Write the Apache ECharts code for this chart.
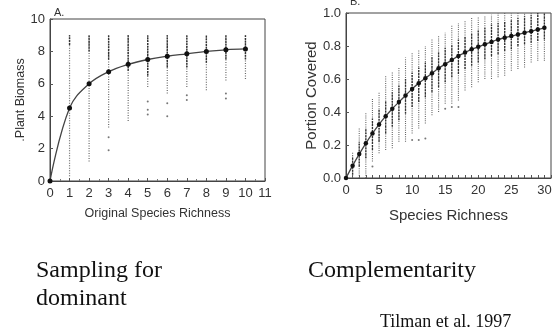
<!DOCTYPE html>
<html>
<head>
<meta charset="utf-8">
<script src="https://cdn.jsdelivr.net/npm/echarts@6/dist/echarts.min.js"></script>
<style>
  html, body { margin: 0; padding: 0; background: #fff; }
  #chart { width: 559px; height: 335px; }
</style>
</head>
<body>
<div id="chart"></div>
<script>
// panel A: plant biomass vs original species richness
const leftX = [0, 1, 2, 3, 4, 5, 6, 7, 8, 9, 10];
const leftMean = [0, 4.5, 6.0, 6.75, 7.2, 7.5, 7.7, 7.85, 8.0, 8.1, 8.15];
const leftCols = [1, 2, 3, 4, 5, 6, 7, 8, 9, 10];
const leftLo = [0.3, 1.2, 3.3, 3.7, 5.8, 5.4, 5.8, 5.6, 6.2, 6.3];
const leftHi = [9.0, 9.0, 9.0, 9.0, 9.0, 9.0, 9.0, 9.0, 9.0, 9.0];
const leftCoreLo = [8.4, 8.0, 7.5, 6.8, 6.5, 7.0, 7.0, 7.3, 7.5, 7.5];
const leftCoreHi = [9.0, 9.0, 9.0, 9.0, 9.0, 9.0, 9.0, 9.0, 9.0, 9.0];
const leftOutliers = [[3, 1.9], [3, 2.7], [5, 4.1], [5, 4.4], [5, 4.9], [6, 4.0], [6, 4.8], [7, 5.0], [7, 5.3], [9, 5.1], [9, 5.4]];

// panel B: portion covered vs species richness
const rightX = [0, 1, 2, 3, 4, 5, 6, 7, 8, 9, 10, 11, 12, 13, 14, 15, 16, 17, 18, 19, 20, 21, 22, 23, 24, 25, 26, 27, 28, 29, 30];
const rightMean = [0, 0.075, 0.145, 0.21, 0.27, 0.325, 0.375, 0.42, 0.46, 0.5, 0.54, 0.575, 0.605, 0.635, 0.665, 0.69, 0.715, 0.74, 0.76, 0.78, 0.795, 0.81, 0.825, 0.84, 0.85, 0.86, 0.87, 0.88, 0.89, 0.9, 0.91];
const rightCols = [1, 2, 3, 4, 5, 6, 7, 8, 9, 10, 11, 12, 13, 14, 15, 16, 17, 18, 19, 20, 21, 22, 23, 24, 25, 26, 27, 28, 29, 30];
const rightLo = [0.0, 0.0, 0.0, 0.10, 0.15, 0.17, 0.18, 0.22, 0.22, 0.27, 0.30, 0.33, 0.38, 0.40, 0.45, 0.45, 0.47, 0.53, 0.55, 0.58, 0.60, 0.60, 0.61, 0.62, 0.65, 0.66, 0.67, 0.70, 0.71, 0.71];
const rightHi = [0.16, 0.30, 0.40, 0.48, 0.52, 0.62, 0.64, 0.67, 0.73, 0.76, 0.78, 0.80, 0.84, 0.86, 0.88, 0.93, 0.94, 0.95, 0.97, 0.98, 0.98, 0.99, 1.0, 1.0, 1.0, 1.0, 1.0, 1.0, 1.0, 1.0];
const rightCoreLo = [0.02, 0.07, 0.12, 0.17, 0.22, 0.27, 0.31, 0.35, 0.39, 0.43, 0.46, 0.49, 0.52, 0.55, 0.58, 0.61, 0.63, 0.66, 0.68, 0.70, 0.72, 0.74, 0.75, 0.77, 0.78, 0.80, 0.81, 0.82, 0.83, 0.84];
const rightCoreHi = [0.13, 0.22, 0.30, 0.36, 0.42, 0.47, 0.52, 0.56, 0.60, 0.64, 0.67, 0.70, 0.73, 0.76, 0.79, 0.81, 0.84, 0.86, 0.88, 0.90, 0.91, 0.93, 0.94, 0.95, 0.96, 0.97, 0.98, 0.99, 1.0, 1.0];
const rightOutliers = [[4, 0.07], [10, 0.23], [11, 0.23], [12, 0.24], [15, 0.42], [16, 0.43], [17, 0.43]];

const sans = '"Liberation Sans", Arial, sans-serif';
const serif = '"Liberation Serif", "Times New Roman", serif';
const ink = '#333';

function zip3(xs, a, b) {
	return xs.map((x, i) => [x, a[i], b[i]]);
}

function rangeItem(color, width, dash) {
	return (params, api) => {
		const p1 = api.coord([api.value(0), api.value(1)]);
		const p2 = api.coord([api.value(0), api.value(2)]);
		return {
			type: 'line',
			shape: { x1: p1[0], y1: p1[1], x2: p2[0], y2: p2[1] },
			style: { stroke: color, lineWidth: width, lineDash: dash }
		};
	};
}

function rangeSeries(idx, data, color, width, dash) {
	return {
		type: 'custom',
		xAxisIndex: idx,
		yAxisIndex: idx,
		data,
		encode: { x: 0, y: [1, 2] },
		silent: true,
		renderItem: rangeItem(color, width, dash)
	};
}

function axisX(idx, max, fontSize, name, nameSize, gap, fmt) {
	return {
		gridIndex: idx,
		type: 'value',
		min: 0,
		max,
		interval: 1,
		name,
		nameLocation: 'middle',
		nameGap: gap,
		nameTextStyle: { color: ink, fontSize: nameSize, fontFamily: sans },
		axisLine: { show: true, lineStyle: { color: '#444', width: 1 } },
		axisTick: { show: true, inside: true, length: 3, lineStyle: { color: '#555' } },
		minorTick: idx === 0 ? { show: true, splitNumber: 2, length: 2, lineStyle: { color: '#777' } } : { show: false },
		splitLine: { show: false },
		axisLabel: { color: ink, fontSize, fontFamily: sans, margin: 6, formatter: fmt }
	};
}

function axisY(idx, max, interval, fontSize, name, nameSize, gap, fmt) {
	return {
		gridIndex: idx,
		type: 'value',
		min: 0,
		max,
		interval,
		name,
		nameLocation: 'middle',
		nameGap: gap,
		nameTextStyle: { color: ink, fontSize: nameSize, fontFamily: sans },
		axisLine: { show: true, lineStyle: { color: '#444', width: 1 } },
		axisTick: { show: true, inside: true, length: 3, lineStyle: { color: '#555' } },
		splitLine: { show: false },
		axisLabel: { color: ink, fontSize, fontFamily: sans, margin: 5, formatter: fmt }
	};
}

const chart = echarts.init(document.getElementById('chart'), null, { renderer: 'canvas' });

chart.setOption({
	backgroundColor: '#fff',
	animation: false,
	grid: [
		{ left: 50, top: 19, width: 215, height: 162, show: true, borderColor: '#444', borderWidth: 1 },
		{ left: 346, top: 13, width: 205, height: 165, show: true, borderColor: '#444', borderWidth: 1 }
	],
	xAxis: [
		axisX(0, 11, 13, 'Original Species Richness', 12.5, 26, (v) => String(v)),
		axisX(1, 31, 13, 'Species Richness', 15, 30, (v) => (v % 5 === 0 && v <= 30 ? String(v) : ''))
	],
	yAxis: [
		axisY(0, 10, 2, 13, '.Plant Biomass', 12.5, 21, (v) => String(v)),
		axisY(1, 1, 0.2, 13, 'Portion Covered', 15, 27, (v) => v.toFixed(1))
	],
	series: [
		rangeSeries(0, zip3(leftCols, leftLo, leftHi), '#6a6a6a', 1.2, [1, 1.5]),
		rangeSeries(0, zip3(leftCols, leftCoreLo, leftCoreHi), '#333', 1.4, [2, 0.8]),
		{
			type: 'scatter',
			xAxisIndex: 0,
			yAxisIndex: 0,
			data: leftOutliers,
			symbolSize: 2,
			itemStyle: { color: '#555' },
			silent: true
		},
		{
			type: 'line',
			xAxisIndex: 0,
			yAxisIndex: 0,
			data: leftX.map((x, i) => [x, leftMean[i]]),
			smooth: 0.4,
			symbol: 'circle',
			symbolSize: 5,
			lineStyle: { color: '#444', width: 1.3 },
			itemStyle: { color: '#111' },
			silent: true
		},
		rangeSeries(1, zip3(rightCols, rightLo, rightHi), '#666', 1.1, [1, 1.2]),
		rangeSeries(1, zip3(rightCols, rightCoreLo, rightCoreHi), '#333', 1.3, [2, 1]),
		{
			type: 'scatter',
			xAxisIndex: 1,
			yAxisIndex: 1,
			data: rightOutliers,
			symbolSize: 2,
			itemStyle: { color: '#555' },
			silent: true
		},
		{
			type: 'line',
			xAxisIndex: 1,
			yAxisIndex: 1,
			data: rightX.map((x, i) => [x, rightMean[i]]),
			smooth: 0.3,
			symbol: 'circle',
			symbolSize: 4.5,
			lineStyle: { color: '#444', width: 1.3 },
			itemStyle: { color: '#111' },
			silent: true
		}
	],
	graphic: [
		{ type: 'text', left: 54, top: 7, style: { text: 'A.', fill: ink, font: '11px ' + sans } },
		{ type: 'text', left: 350, top: -4, style: { text: 'B.', fill: ink, font: '11px ' + sans } },
		{ type: 'text', left: 36, top: 259, style: { text: 'Sampling for', fill: '#111', font: '24px ' + serif } },
		{ type: 'text', left: 36, top: 287, style: { text: 'dominant', fill: '#111', font: '24px ' + serif } },
		{ type: 'text', left: 308, top: 259, style: { text: 'Complementarity', fill: '#111', font: '24px ' + serif } },
		{ type: 'text', left: 380, top: 313, style: { text: 'Tilman et al. 1997', fill: '#111', font: '18px ' + serif } }
	]
});
</script>
</body>
</html>
